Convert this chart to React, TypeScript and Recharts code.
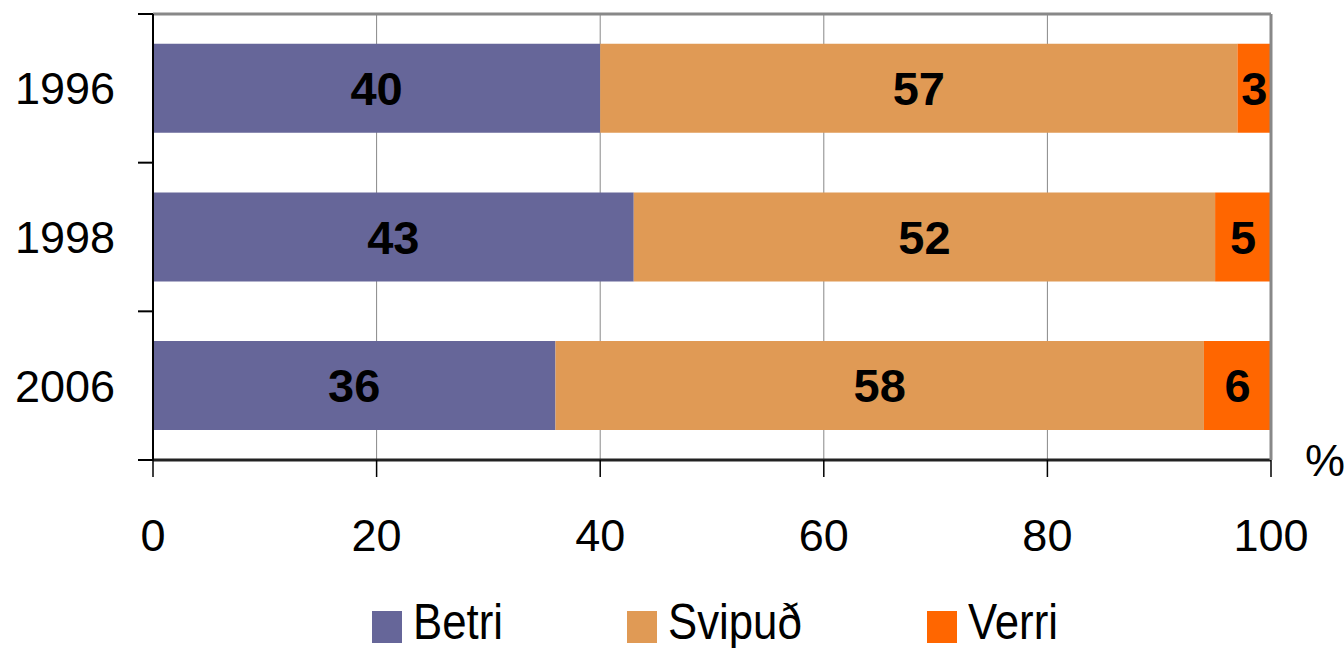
import { Bar, BarChart, CartesianGrid, LabelList, XAxis, YAxis } from 'recharts';

const years = ['1996', '1998', '2006'];
const betri = [40, 43, 36];
const svipud = [57, 52, 58];
const verri = [3, 5, 6];
const xTicks = [0, 20, 40, 60, 80, 100];

const SERIES = [
  { key: 'betri', label: 'Betri', color: '#666699' },
  { key: 'svipud', label: 'Svipuð', color: '#E09A55' },
  { key: 'verri', label: 'Verri', color: '#FF6600' },
];

const data = years.map((year, i) => ({
  year,
  betri: betri[i],
  svipud: svipud[i],
  verri: verri[i],
}));

const FONT = '"Liberation Sans", Arial, sans-serif';
const PLOT_TOP = 14;
const PLOT_BOTTOM = 460;

// year label in the middle of the band, tick marks on the band edges
function YearTick(props: any) {
  const { x, y, payload, index, visibleTicksCount } = props;
  const half = payload.offset ?? (PLOT_BOTTOM - PLOT_TOP) / years.length / 2;
  const lx1 = x + 23;
  const lx2 = x + 38;
  return (
    <g>
      <line x1={lx1} x2={lx2} y1={y - half} y2={y - half} stroke="#000" strokeWidth={2} />
      {index === visibleTicksCount - 1 && (
        <line x1={lx1} x2={lx2} y1={y + half} y2={y + half} stroke="#000" strokeWidth={2} />
      )}
      <text x={x} y={y} dy="0.355em" textAnchor="end" fill="#000" fontSize={45} fontFamily={FONT}>
        {payload.value}
      </text>
    </g>
  );
}

export default function App() {
  return (
    <div style={{ position: 'absolute', left: 0, top: 0, width: 1344, height: 648, background: '#fff' }}>
      <BarChart
        width={1344}
        height={648}
        data={data}
        layout="vertical"
        margin={{ top: PLOT_TOP - 1, right: 72, bottom: 88, left: 0 }}
        barCategoryGap="20%"
      >
        <CartesianGrid horizontal={false} stroke="#888" strokeWidth={1} />
        <XAxis
          type="number"
          domain={[0, 100]}
          ticks={xTicks}
          height={100}
          tickSize={17}
          tickMargin={42}
          tickLine={{ stroke: '#000', strokeWidth: 1.5 }}
          axisLine={{ stroke: '#222', strokeWidth: 3 }}
          tick={{ fill: '#000', fontSize: 45, fontFamily: FONT }}
          interval={0}
        />
        <XAxis
          xAxisId="top"
          orientation="top"
          type="number"
          domain={[0, 100]}
          height={1}
          tick={false}
          tickLine={false}
          axisLine={{ stroke: '#888', strokeWidth: 3 }}
        />
        <YAxis
          type="category"
          dataKey="year"
          width={153}
          tickSize={15}
          tickMargin={23}
          tickLine={false}
          axisLine={{ stroke: '#000', strokeWidth: 2 }}
          tick={<YearTick />}
          interval={0}
        />
        <YAxis
          yAxisId="right"
          orientation="right"
          type="category"
          dataKey="year"
          width={1}
          tick={false}
          tickLine={false}
          axisLine={{ stroke: '#888', strokeWidth: 3 }}
        />
        {SERIES.map((s) => (
          <Bar key={s.key} dataKey={s.key} stackId="a" fill={s.color} isAnimationActive={false}>
            <LabelList
              dataKey={s.key}
              position="center"
              fill="#000"
              fontSize={47}
              fontWeight="bold"
              fontFamily={FONT}
            />
          </Bar>
        ))}
      </BarChart>

      <div style={{ position: 'absolute', left: 1305, top: 438, fontSize: 45, lineHeight: 1, fontFamily: FONT }}>%</div>

      {SERIES.map((s, i) => {
        const swatchX = [372, 627, 927][i];
        return (
          <div key={s.key}>
            <div
              style={{ position: 'absolute', left: swatchX, top: 611, width: 30, height: 32, background: s.color }}
            />
            <div
              style={{
                position: 'absolute',
                left: swatchX + 41,
                top: 597,
                fontSize: 50,
                lineHeight: 1,
                fontFamily: FONT,
                transform: 'scaleX(0.875)',
                transformOrigin: 'left top',
                whiteSpace: 'nowrap',
              }}
            >
              {s.label}
            </div>
          </div>
        );
      })}
    </div>
  );
}
